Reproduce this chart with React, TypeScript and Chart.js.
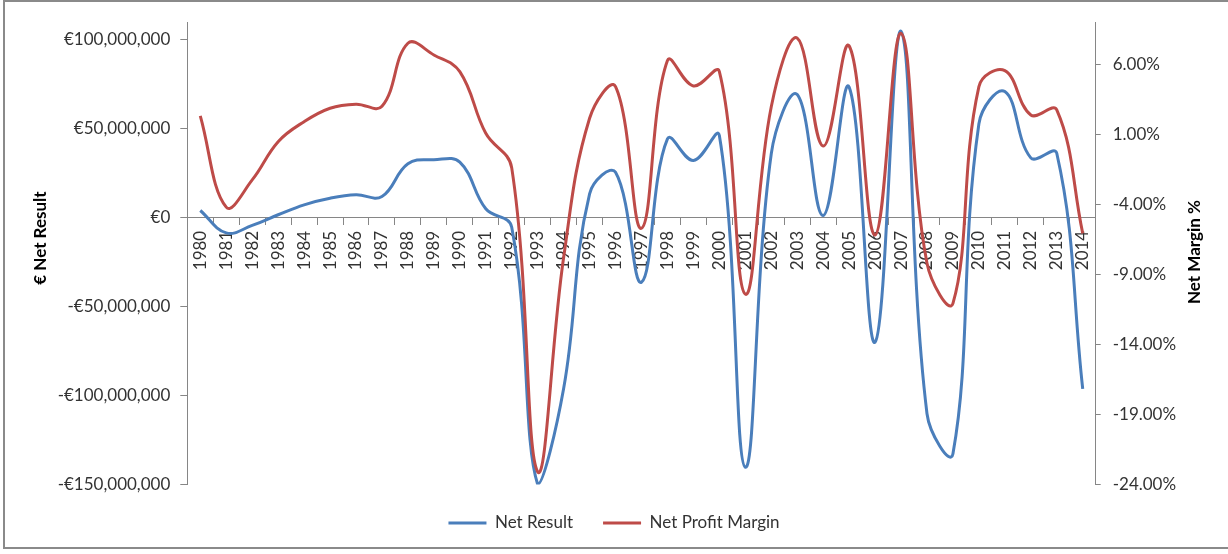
import React, { useEffect, useRef } from 'react';
import { Chart, registerables } from 'chart.js';

Chart.register(...registerables);

const YEARS = [
  '1980', '1981', '1982', '1983', '1984', '1985', '1986', '1987', '1988', '1989',
  '1990', '1991', '1992', '1993', '1994', '1995', '1996', '1997', '1998', '1999',
  '2000', '2001', '2002', '2003', '2004', '2005', '2006', '2007', '2008', '2009',
  '2010', '2011', '2012', '2013', '2014',
];

const NET_RESULT = [
  4100000, -8500000, -4300000, 1700000, 7300000, 11000000, 12900000, 12000000, 30400000, 32600000,
  31300000, 5100000, -5300000, -150000000, -96000000, 13500000, 25600000, -36200000, 44400000, 32200000,
  46300000, -140300000, 36000000, 69300000, 1300000, 73500000, -70000000, 104900000, -110200000, -132700000,
  52900000, 71000000, 33700000, 36300000, -96200000,
];

const NET_MARGIN = [
  2.31, -4.2, -2.26, 0.47, 1.9, 2.86, 3.15, 3.0, 7.5, 6.66,
  5.47, 1.07, -1.4, -23.1, -7.8, 2.14, 4.4, -5.71, 6.26, 4.45,
  5.47, -10.41, 2.97, 7.86, 0.16, 7.31, -6.19, 8.21, -8.21, -11.07,
  4.4, 5.54, 2.38, 2.74, -6.07,
];

const LEFT_TICKS = [-150000000, -100000000, -50000000, 0, 50000000, 100000000];
const RIGHT_TICKS = [-24, -19, -14, -9, -4, 1, 6];
const LEFT_MIN = -150000000;
const LEFT_MAX = 110000000;
const RIGHT_MIN = -24;
const RIGHT_MAX = 9;

const SERIES_LABELS = ['Net Result', 'Net Profit Margin'];
const LEFT_TITLE = '€ Net Result';
const RIGHT_TITLE = 'Net Margin %';

const FONT = 'Lato, "Noto Sans", sans-serif';
const FONT_SIZE = 17;
const TEXT = '#333333';
const AXIS = '#868686';
const BLUE = '#4A7EBB';
const RED = '#BE4B48';

const fmtEuro = (v: number) => (v < 0 ? '-' : '') + '€' + Math.abs(v).toLocaleString('en-US');
const fmtPct = (v: number) => v.toFixed(2) + '%';

const axisTitles = {
  id: 'axisTitles',
  afterDraw(chart: any) {
    const ctx = chart.ctx;
    ctx.save();
    ctx.font = `bold 17px ${FONT}`;
    ctx.fillStyle = '#000000';
    ctx.textAlign = 'center';
    ctx.textBaseline = 'middle';
    ctx.save();
    ctx.translate(41, 238);
    ctx.rotate(-Math.PI / 2);
    ctx.fillText(LEFT_TITLE, 0, 0);
    ctx.restore();
    ctx.save();
    ctx.translate(1195, 252);
    ctx.rotate(-Math.PI / 2);
    ctx.fillText(RIGHT_TITLE, 0, 0);
    ctx.restore();
    ctx.restore();
  },
};

export default function App() {
  const ref = useRef<HTMLCanvasElement | null>(null);

  useEffect(() => {
    if (!ref.current) return;
    const chart = new Chart(ref.current, {
      type: 'line',
      data: {
        labels: YEARS,
        datasets: [
          {
            label: SERIES_LABELS[0],
            data: NET_RESULT,
            yAxisID: 'y',
            borderColor: BLUE,
            backgroundColor: BLUE,
            borderWidth: 3,
            pointRadius: 0,
            tension: 0.4,
            order: 1,
          },
          {
            label: SERIES_LABELS[1],
            data: NET_MARGIN,
            yAxisID: 'y1',
            borderColor: RED,
            backgroundColor: RED,
            borderWidth: 3,
            pointRadius: 0,
            tension: 0.4,
            order: 0,
          },
        ],
      },
      options: {
        responsive: false,
        animation: false,
        layout: { padding: { top: 21, left: 0, right: 0, bottom: 12.5 } },
        plugins: {
          legend: {
            position: 'bottom',
            labels: {
              font: { family: FONT, size: FONT_SIZE },
              color: TEXT,
              usePointStyle: true,
              pointStyle: 'line',
              pointStyleWidth: 38,
              padding: 30,
              sort: (a: any, b: any) => a.datasetIndex - b.datasetIndex,
            },
          },
          tooltip: { enabled: false },
        },
        scales: {
          x: {
            type: 'category',
            position: { y: 0 } as any,
            offset: true,
            grid: { offset: true, drawOnChartArea: false, tickLength: 7, color: AXIS },
            border: { color: AXIS, width: 1 },
            ticks: {
              autoSkip: false,
              maxRotation: 90,
              minRotation: 90,
              padding: 6,
              labelOffset: 0,
              font: { family: FONT, size: FONT_SIZE },
              color: TEXT,
            },
          },
          y: {
            type: 'linear',
            position: 'left',
            min: LEFT_MIN,
            max: LEFT_MAX,
            afterBuildTicks: (scale: any) => {
              scale.ticks = LEFT_TICKS.map((value) => ({ value }));
            },
            afterFit: (scale: any) => {
              scale.width = 187.3;
            },
            grid: { drawOnChartArea: false, tickLength: 7, color: AXIS },
            border: { color: AXIS, width: 1 },
            ticks: {
              padding: 10,
              font: { family: FONT, size: FONT_SIZE },
              color: TEXT,
              callback: (v: any) => fmtEuro(Number(v)),
            },
          },
          y1: {
            type: 'linear',
            position: 'right',
            min: RIGHT_MIN,
            max: RIGHT_MAX,
            afterBuildTicks: (scale: any) => {
              scale.ticks = RIGHT_TICKS.map((value) => ({ value }));
            },
            afterFit: (scale: any) => {
              scale.width = 132.3;
            },
            grid: { drawOnChartArea: false, tickLength: 5, color: AXIS },
            border: { color: AXIS, width: 1 },
            ticks: {
              padding: 12,
              font: { family: FONT, size: FONT_SIZE },
              color: TEXT,
              callback: (v: any) => fmtPct(Number(v)),
            },
          },
        },
      } as any,
      plugins: [axisTitles],
    });
    return () => chart.destroy();
  }, []);

  return (
    <div style={{ position: 'absolute', left: 0, top: 0, width: 1228, height: 554, overflow: 'hidden', background: '#ffffff' }}>
      <div
        style={{
          position: 'absolute',
          left: 3,
          top: 0,
          width: 1240,
          height: 549,
          border: '2px solid #8a8a8a',
          boxSizing: 'border-box',
        }}
      />
      <canvas ref={ref} width={1228} height={554} style={{ position: 'absolute', left: 0, top: 0 }} />
    </div>
  );
}
